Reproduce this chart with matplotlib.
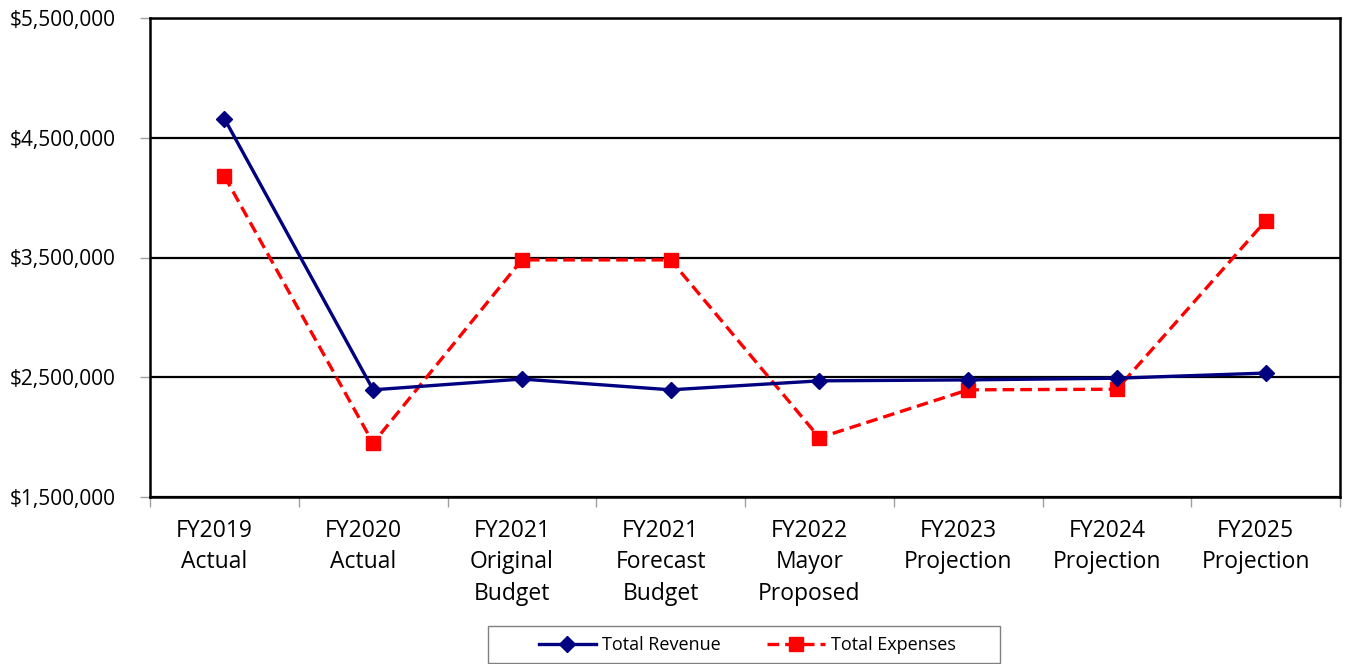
import numpy as np
import matplotlib.pyplot as plt
import matplotlib.transforms as mtransforms
from matplotlib.patches import Rectangle
from matplotlib.ticker import FuncFormatter, FixedLocator

plt.rcParams['font.family'] = ['Open Sans', 'DejaVu Sans']

# Data
categories = ["FY2019\nActual", "FY2020\nActual", "FY2021\nOriginal\nBudget",
              "FY2021\nForecast\nBudget", "FY2022\nMayor\nProposed",
              "FY2023\nProjection", "FY2024\nProjection", "FY2025\nProjection"]
revenue = [4660000, 2395000, 2485000, 2395000, 2470000, 2478000, 2492000, 2535000]
expenses = [4180000, 1950000, 3480000, 3480000, 1995000, 2395000, 2400000, 3805000]

W, H = 1346, 664
fig = plt.figure(figsize=(W / 100, H / 100), dpi=100)
ax = fig.add_axes([150/W, 1 - 497/H, 1190/W, 479/H])

x = np.arange(len(categories))
ax.plot(x, revenue, color='#000080', lw=2.4, marker='D', ms=8,
        label='Total Revenue', zorder=4)
ax.plot(x, expenses, color='#ff0000', lw=2.4, ls=(0, (3.5, 1.8)), marker='s', ms=10,
        label='Total Expenses', zorder=3)

ax.set_xlim(-0.5, len(categories) - 0.5)
ax.set_ylim(1500000, 5500000)
ax.set_yticks(np.arange(1500000, 5500001, 1000000))
ax.yaxis.set_major_formatter(FuncFormatter(lambda v, p: f"${v:,.0f}"))
ax.yaxis.grid(True, color='black', lw=1.6)
ax.set_axisbelow(True)

# category labels between boundary tick marks
ax.xaxis.set_major_locator(FixedLocator(np.arange(len(categories) + 1) - 0.5))
ax.xaxis.set_major_formatter(FuncFormatter(lambda v, p: ""))
ax.set_xticks(x, minor=True)
ax.set_xticklabels(categories, minor=True, fontsize=16.5, linespacing=1.4, va='top')
ax.tick_params(axis='x', which='minor', length=0, pad=16)
ax.tick_params(axis='x', which='major', length=7, color='#a0a0a0', width=1)
ax.tick_params(axis='y', length=7, color='#a0a0a0', width=1, labelsize=15, pad=18)
offset = mtransforms.ScaledTranslation(-0.1, 0, fig.dpi_scale_trans)
for lab in ax.get_xticklabels(minor=True):
    lab.set_transform(lab.get_transform() + offset)

for s in ax.spines.values():
    s.set_color('black')
    s.set_linewidth(1.8)

leg = fig.legend(loc='center', bbox_to_anchor=(747/W, 1 - 645/H), ncol=2,
                 fontsize=13, frameon=False,
                 handlelength=3.2, handletextpad=0.3, columnspacing=2.6,
                 borderpad=0, borderaxespad=0)
fig.patches.append(Rectangle((488/W, 1 - 663/H), 512/W, 37/H, transform=fig.transFigure,
                             fill=False, edgecolor='#808080', lw=1))

fig.savefig('out.png', dpi=100)
